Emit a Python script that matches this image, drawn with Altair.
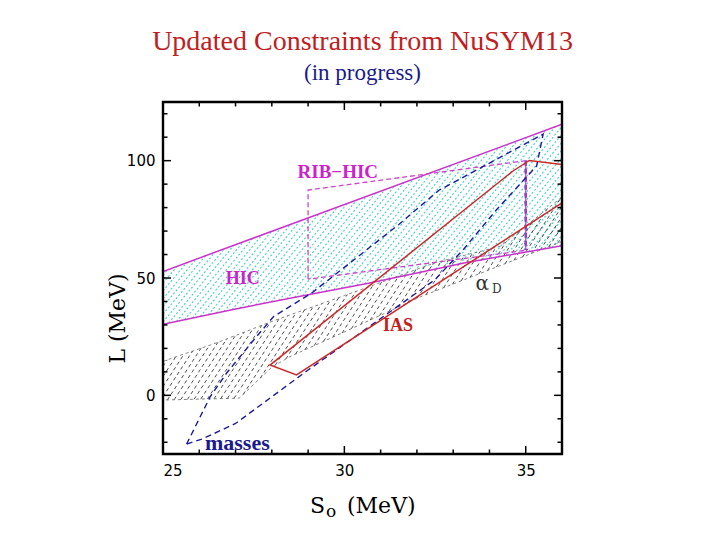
import math
import altair as alt
import pandas as pd

# ---------------- data ----------------
S_MIN, S_MAX = 25.0, 36.0
L_MIN, L_MAX = -25.0, 125.0

x_major = [25, 30, 35]
x_minor = [26, 27, 28, 29, 31, 32, 33, 34, 36]
y_major = [0, 50, 100]
y_minor = [-20, -10, 10, 20, 30, 40, 60, 70, 80, 90, 110, 120]

# HIC band (solid magenta lines, cyan hatch between)
hic_upper_s = [25.0, 36.0]
hic_upper_l = [52.8, 115.5]
hic_lower_s = [25.0, 27.0, 29.0, 30.7, 33.3, 36.0]
hic_lower_l = [30.3, 36.8, 42.9, 47.9, 56.4, 63.8]

# RIB-HIC box (dashed magenta)
rib_s = [29.0, 29.0, 35.0, 35.0, 29.0]
rib_l = [49.5, 87.5, 100.0, 61.8, 49.5]

# IAS contour (solid red, cut by the right frame)
ias_s = [36.0, 35.1, 34.65, 27.95, 28.68, 36.0]
ias_l = [98.4, 100.1, 95.6, 12.9, 8.7, 82.0]

# masses contour (dashed blue)
masses_s = [25.65, 26.3, 26.75, 27.5, 28.05, 29.1, 30.3, 31.5, 32.6, 35.48,
            35.3, 34.2, 33.3, 32.5, 30.3, 29.0, 27.0, 26.1, 25.65]
masses_l = [-20.8, -0.6, 9.4, 23.6, 33.6, 43.6, 58.2, 72.8, 87.3, 111.3,
            97.7, 79.2, 62.5, 49.3, 25.0, 10.8, -12.0, -18.5, -20.8]

# alpha_D region (black dashed hatch)
alpha_s = [25.0, 26.5, 28.0, 30.0, 32.5, 34.3, 36.0, 36.0, 34.0, 32.1, 30.0,
           28.5, 28.0, 27.1, 25.0]
alpha_l = [14.5, 22.5, 31.5, 42.5, 56.5, 63.5, 84.5, 65.5, 53.5, 42.0, 27.0,
           16.5, 12.0, -1.2, -2.0]

labels_text = ["RIB−HIC", "HIC", "IAS", "masses"]
labels_s = [29.82, 27.2, 31.48, 27.05]
labels_l = [95.0, 49.5, 29.4, -20.2]

alpha_label_s, alpha_label_l = 33.8, 47.6
alpha_sub_s, alpha_sub_l = 34.2, 45.4

# ---------------- layout ----------------
W, H = 399, 352

sx = alt.Scale(domain=[S_MIN, S_MAX], nice=False, zero=False)
sy = alt.Scale(domain=[L_MIN, L_MAX], nice=False, zero=False)

ax_x = alt.Axis(values=x_major, ticks=False, domain=False, grid=False,
                labelFont="DejaVu Sans", labelFontSize=15, labelColor="black",
                labelPadding=9, title=None)
ax_y = alt.Axis(values=y_major, ticks=False, domain=False, grid=False,
                labelFont="DejaVu Sans", labelFontSize=15, labelColor="black",
                labelPadding=8, title="L (MeV)", titleFont="DejaVu Serif",
                titleFontSize=22, titleFontWeight="normal", titleColor="black",
                titleX=-46, titleY=216, titleAngle=270, titleBaseline="middle",
                titleAlign="center")


def X(field="S"):
    return alt.X(f"{field}:Q", scale=sx, axis=ax_x)


def Y(field="L"):
    return alt.Y(f"{field}:Q", scale=sy, axis=ax_y)


def path_df(s, l):
    return pd.DataFrame({"S": s, "L": l, "i": list(range(len(s)))})


def hatch(s, l, angle, spacing):
    """Hatch segments clipped to the polygon (s, l), drawn at a pixel angle."""
    pts = [((a - S_MIN) / (S_MAX - S_MIN) * W, (L_MAX - b) / (L_MAX - L_MIN) * H)
           for a, b in zip(s, l)]
    if pts[0] != pts[-1]:
        pts.append(pts[0])
    t = math.radians(angle)
    d = (math.cos(t), -math.sin(t))
    n = (math.sin(t), math.cos(t))
    proj = [p[0] * n[0] + p[1] * n[1] for p in pts]
    rows, seg = [], 0
    c = min(proj) + spacing / 2
    while c < max(proj):
        hits = []
        for k in range(len(pts) - 1):
            f1, f2 = proj[k] - c, proj[k + 1] - c
            if (f1 < 0) != (f2 < 0):
                u = f1 / (f1 - f2)
                px = pts[k][0] + u * (pts[k + 1][0] - pts[k][0])
                py = pts[k][1] + u * (pts[k + 1][1] - pts[k][1])
                hits.append((px * d[0] + py * d[1], px, py))
        hits.sort()
        for a, b in zip(hits[0::2], hits[1::2]):
            for k, (_, px, py) in enumerate((a, b)):
                rows.append({"S": S_MIN + px / W * (S_MAX - S_MIN),
                             "L": L_MAX - py / H * (L_MAX - L_MIN),
                             "seg": seg, "k": k})
            seg += 1
        c += spacing
    return pd.DataFrame(rows)


def line_layer(df, color, width, dash=None, order="i:O"):
    kw = dict(color=color, strokeWidth=width, clip=True)
    if dash:
        kw["strokeDash"] = dash
    return alt.Chart(df).mark_line(**kw).encode(x=X(), y=Y(), order=alt.Order(order))


# hatch fills
hic_poly_s = hic_upper_s + hic_lower_s[::-1]
hic_poly_l = hic_upper_l + hic_lower_l[::-1]
cyan_hatch = alt.Chart(hatch(hic_poly_s, hic_poly_l, 50, 5.0)).mark_line(
    color="#45cccc", strokeWidth=1.1, strokeDash=[2, 2], clip=True
).encode(x=X(), y=Y(), detail="seg:N", order=alt.Order("k:O"))

black_hatch = alt.Chart(hatch(alpha_s, alpha_l, 57, 5.5)).mark_line(
    color="#222222", strokeWidth=0.8, strokeDash=[3.5, 3], clip=True
).encode(x=X(), y=Y(), detail="seg:N", order=alt.Order("k:O"))

alpha_outline = line_layer(path_df(alpha_s, alpha_l), "#666666", 0.8, [3, 3])

hic_up = line_layer(path_df(hic_upper_s, hic_upper_l), "#cc33cc", 1.5)
hic_lo = line_layer(path_df(hic_lower_s, hic_lower_l), "#cc33cc", 1.5)

rib = line_layer(path_df(rib_s, rib_l), "#cc44cc", 1.3, [5, 3])
rib_right = line_layer(path_df(rib_s[2:4], rib_l[2:4]), "#9b3fc8", 2.6, [5, 3])

masses = line_layer(path_df(masses_s, masses_l), "#1c1ca0", 1.4, [6, 4])
ias = line_layer(path_df(ias_s, ias_l), "#cc2a2a", 1.5)

label_style = {
    "RIB−HIC": dict(color="#cc22cc", size=19),
    "HIC": dict(color="#cc22cc", size=18),
    "IAS": dict(color="#c42020", size=18),
    "masses": dict(color="#1a1a90", size=22),
}
label_layers = []
for txt, s, l in zip(labels_text, labels_s, labels_l):
    st = label_style[txt]
    label_layers.append(
        alt.Chart(pd.DataFrame({"S": [s], "L": [l], "t": [txt]})).mark_text(
            font="Liberation Serif", fontWeight="bold", fontSize=st["size"],
            color=st["color"], baseline="middle", align="center"
        ).encode(x=X(), y=Y(), text="t:N")
    )

alpha_txt = alt.Chart(pd.DataFrame({"S": [alpha_label_s], "L": [alpha_label_l], "t": ["α"]})).mark_text(
    font="DejaVu Serif", fontSize=20, color="#333333", baseline="middle", align="center"
).encode(x=X(), y=Y(), text="t:N")
alpha_sub = alt.Chart(pd.DataFrame({"S": [alpha_sub_s], "L": [alpha_sub_l], "t": ["D"]})).mark_text(
    font="DejaVu Serif", fontSize=12, color="#333333", baseline="middle", align="center"
).encode(x=X(), y=Y(), text="t:N")

# x-axis title S_o (MeV), built from three pieces so the "o" can be a subscript
title_parts = alt.layer(
    alt.Chart(pd.DataFrame({"t": ["S"]})).mark_text(
        font="DejaVu Serif", fontSize=22, color="black", baseline="alphabetic", align="left"
    ).encode(x=alt.value(147), y=alt.value(H + 59), text="t:N"),
    alt.Chart(pd.DataFrame({"t": ["o"]})).mark_text(
        font="DejaVu Serif", fontSize=17, color="black", baseline="alphabetic", align="left"
    ).encode(x=alt.value(163), y=alt.value(H + 63), text="t:N"),
    alt.Chart(pd.DataFrame({"t": ["(MeV)"]})).mark_text(
        font="DejaVu Serif", fontSize=22, color="black", baseline="alphabetic", align="left"
    ).encode(x=alt.value(184), y=alt.value(H + 59), text="t:N"),
)

# inward ticks on all four sides
xt_major = pd.DataFrame({"S": x_major})
xt_minor = pd.DataFrame({"S": x_minor})
yt_major = pd.DataFrame({"L": y_major})
yt_minor = pd.DataFrame({"L": y_minor})
tick_layers = []
for df, ln in ((xt_major, 8), (xt_minor, 4.5)):
    tick_layers.append(alt.Chart(df).mark_rule(color="black", strokeWidth=1.5).encode(
        x=X(), y=alt.value(H), y2=alt.value(H - ln)))
    tick_layers.append(alt.Chart(df).mark_rule(color="black", strokeWidth=1.5).encode(
        x=X(), y=alt.value(0), y2=alt.value(ln)))
for df, ln in ((yt_major, 8), (yt_minor, 4.5)):
    tick_layers.append(alt.Chart(df).mark_rule(color="black", strokeWidth=1.5).encode(
        y=Y(), x=alt.value(0), x2=alt.value(ln)))
    tick_layers.append(alt.Chart(df).mark_rule(color="black", strokeWidth=1.5).encode(
        y=Y(), x=alt.value(W), x2=alt.value(W - ln)))

frame = alt.Chart(pd.DataFrame({"t": [0]})).mark_rect(
    filled=False, stroke="black", strokeWidth=2.4
).encode(x=alt.value(0), x2=alt.value(W), y=alt.value(0), y2=alt.value(H))

chart = alt.layer(
    cyan_hatch, black_hatch, alpha_outline, hic_up, hic_lo, rib, rib_right,
    masses, ias, *label_layers, alpha_txt, alpha_sub, title_parts, *tick_layers, frame
).properties(
    width=W, height=H,
    padding={"left": 155, "top": 94, "right": 150, "bottom": 78},
    autosize=alt.AutoSizeParams(type="none"),
    title=alt.TitleParams(
        text="Updated Constraints from NuSYM13",
        subtitle="(in progress)",
        font="Liberation Serif", fontSize=28, fontWeight="normal", color="#c0201e",
        subtitleFont="Liberation Serif", subtitleFontSize=23, subtitleColor="#1a1a8a",
        anchor="middle", offset=16, subtitlePadding=6,
    ),
).configure_view(stroke=None).configure(background="white")

chart.save("out.html", embed_options={"renderer": "svg", "actions": False})
